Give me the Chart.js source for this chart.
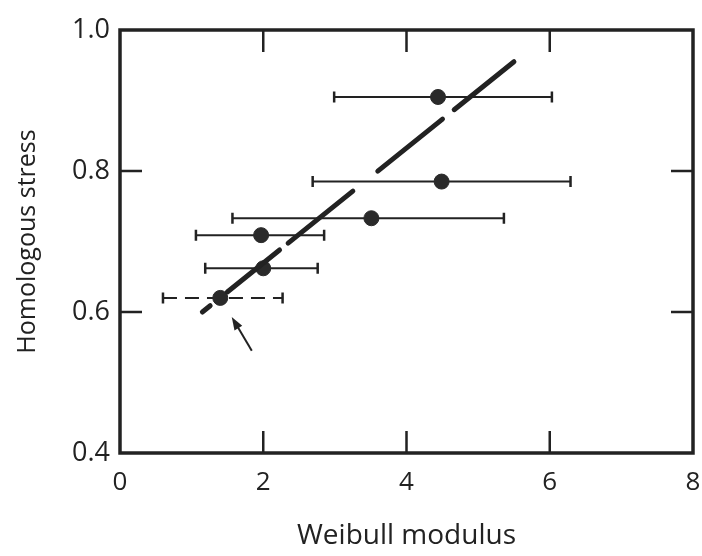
<!DOCTYPE html>
<html>
<head>
<meta charset="utf-8">
<script src="https://cdn.jsdelivr.net/npm/chart.js@4"></script>
<style>
  html, body { margin: 0; padding: 0; background: #fff; overflow: hidden; }
  #wrap { width: 702px; height: 556px; }
</style>
</head>
<body>
<div id="wrap"><canvas id="chart"></canvas></div>
<script>
// Measured points: Weibull modulus vs homologous stress
const weibull = [4.44, 4.49, 3.51, 1.97, 2.0, 1.40];
const stress = [0.905, 0.785, 0.733, 0.709, 0.662, 0.620];
// horizontal scatter band of each modulus
const weibullLow = [2.99, 2.69, 1.57, 1.06, 1.19, 0.60];
const weibullHigh = [6.03, 6.29, 5.36, 2.85, 2.76, 2.27];
const dashedBar = [false, false, false, false, false, true];

// trend line end points
const fitX = [1.15, 5.5];
const fitY = [0.6, 0.955];

// arrow pointing at the dashed point (tail, tip)
const arrowX = [1.84, 1.56];
const arrowY = [0.545, 0.593];

const xTicks = [0, 2, 4, 6, 8];
const yTicks = [0.4, 0.6, 0.8, 1.0];

const ink = '#222';
const fontFamily = '"Open Sans", sans-serif';

// error bars, inward tick marks, frame and arrow
const extras = {
  id: 'extras',
  beforeDatasetsDraw(chart) {
    const ctx = chart.ctx, xs = chart.scales.x, ys = chart.scales.y;
    ctx.save();
    ctx.strokeStyle = ink;
    ctx.lineWidth = 2;
    weibull.forEach((_, i) => {
      const y = ys.getPixelForValue(stress[i]);
      const x0 = xs.getPixelForValue(weibullLow[i]);
      const x1 = xs.getPixelForValue(weibullHigh[i]);
      ctx.setLineDash(dashedBar[i] ? [14, 8] : []);
      ctx.beginPath();
      ctx.moveTo(x0, y); ctx.lineTo(x1, y);
      ctx.stroke();
      ctx.setLineDash([]);
      ctx.lineWidth = 2.5;
      ctx.beginPath();
      ctx.moveTo(x0, y - 5.5); ctx.lineTo(x0, y + 5.5);
      ctx.moveTo(x1, y - 5.5); ctx.lineTo(x1, y + 5.5);
      ctx.stroke();
      ctx.lineWidth = 2;
    });
    ctx.restore();
  },
  afterDraw(chart) {
    const ctx = chart.ctx, a = chart.chartArea;
    const xs = chart.scales.x, ys = chart.scales.y;
    const len = 22;
    ctx.save();
    ctx.strokeStyle = ink;
    ctx.lineWidth = 2.5;
    ctx.beginPath();
    xTicks.slice(1, -1).forEach(v => {
      const x = xs.getPixelForValue(v);
      ctx.moveTo(x, a.bottom); ctx.lineTo(x, a.bottom - len);
      ctx.moveTo(x, a.top); ctx.lineTo(x, a.top + len);
    });
    yTicks.slice(1, -1).forEach(v => {
      const y = ys.getPixelForValue(v);
      ctx.moveTo(a.left, y); ctx.lineTo(a.left + len, y);
      ctx.moveTo(a.right, y); ctx.lineTo(a.right - len, y);
    });
    ctx.stroke();

    ctx.lineWidth = 3.5;
    ctx.strokeRect(a.left, a.top, a.right - a.left, a.bottom - a.top);

    // arrow
    const tx = xs.getPixelForValue(arrowX[0]), ty = ys.getPixelForValue(arrowY[0]);
    const hx = xs.getPixelForValue(arrowX[1]), hy = ys.getPixelForValue(arrowY[1]);
    const ang = Math.atan2(hy - ty, hx - tx);
    ctx.lineWidth = 2;
    ctx.beginPath();
    ctx.moveTo(tx, ty); ctx.lineTo(hx - 6 * Math.cos(ang), hy - 6 * Math.sin(ang));
    ctx.stroke();
    ctx.fillStyle = ink;
    ctx.beginPath();
    ctx.moveTo(hx, hy);
    ctx.lineTo(hx - 13 * Math.cos(ang) + 4.5 * Math.sin(ang), hy - 13 * Math.sin(ang) - 4.5 * Math.cos(ang));
    ctx.lineTo(hx - 13 * Math.cos(ang) - 4.5 * Math.sin(ang), hy - 13 * Math.sin(ang) + 4.5 * Math.cos(ang));
    ctx.closePath();
    ctx.fill();
    ctx.restore();
  }
};

new Chart(document.getElementById('chart'), {
  type: 'scatter',
  data: {
    datasets: [
      {
        type: 'line',
        data: fitX.map((x, i) => ({ x: x, y: fitY[i] })),
        borderColor: ink,
        borderWidth: 5,
        borderCapStyle: 'round',
        borderDash: [10, 22, 67, 11, 83, 32, 83, 15, 80, 20],
        pointRadius: 0,
        fill: false
      },
      {
        data: weibull.map((x, i) => ({ x: x, y: stress[i] })),
        backgroundColor: '#2a2a2a',
        borderColor: '#2a2a2a',
        pointRadius: 7.5,
        pointHoverRadius: 7.5
      }
    ]
  },
  options: {
    responsive: true,
    maintainAspectRatio: false,
    animation: false,
    events: [],
    layout: { padding: { top: 30, right: 9, left: 0, bottom: 0 } },
    plugins: { legend: { display: false }, tooltip: { enabled: false } },
    scales: {
      x: {
        type: 'linear',
        min: 0, max: 8,
        afterBuildTicks: s => { s.ticks = xTicks.map(v => ({ value: v })); },
        afterFit: s => { s.height = 103; s.paddingLeft = 0; s.paddingRight = 0; },
        grid: { display: false, drawTicks: false },
        border: { display: false },
        ticks: { color: ink, padding: 14, font: { family: fontFamily, size: 26 } },
        title: {
          display: true, text: 'Weibull modulus', color: ink,
          padding: { top: 0, bottom: 3 },
          font: { family: fontFamily, size: 28 }
        }
      },
      y: {
        type: 'linear',
        min: 0.4, max: 1.0,
        afterBuildTicks: s => { s.ticks = yTicks.map(v => ({ value: v })); },
        afterFit: s => { s.width = 120; },
        grid: { display: false, drawTicks: false },
        border: { display: false },
        ticks: {
          color: ink, padding: 10,
          font: { family: fontFamily, size: 27 },
          callback: v => v.toFixed(1)
        },
        title: {
          display: true, text: 'Homologous stress', color: ink,
          padding: { top: 13, bottom: 0 },
          font: { family: fontFamily, size: 25 }
        }
      }
    }
  },
  plugins: [extras]
});
</script>
</body>
</html>
